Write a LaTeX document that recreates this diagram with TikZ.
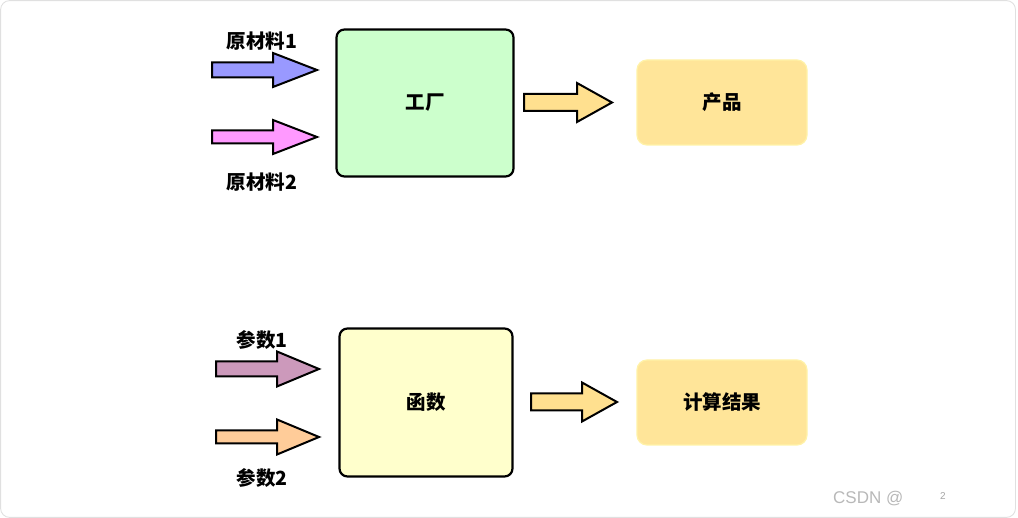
\documentclass[tikz,border=0pt]{standalone}
\usepackage{fontspec}
\newfontfamily\cjk{Noto Sans CJK SC}
\setsansfont{Liberation Sans}
\definecolor{factfill}{HTML}{CCFFCC}
\definecolor{funcfill}{HTML}{FFFFCC}
\definecolor{resfill}{HTML}{FFE599}
\definecolor{resdraw}{HTML}{FFF2A8}
\definecolor{inA}{HTML}{9999FF}
\definecolor{inB}{HTML}{FF99FF}
\definecolor{inC}{HTML}{CC99BB}
\definecolor{inD}{HTML}{FFCC99}
\definecolor{outA}{HTML}{FFE08F}
\newcommand\blockarr[7]{% color, tail x, center y, shaft half, head start x, head half, tip x
  \draw[barr, fill=#1] (#2,#3-#4) -- (#5,#3-#4) -- (#5,#3-#6) -- (#7,#3)
    -- (#5,#3+#6) -- (#5,#3+#4) -- (#2,#3+#4) -- cycle;}
\begin{document}
\begin{tikzpicture}[x=1pt,y=-1pt,
  lbl/.style={font=\cjk\bfseries\fontsize{19.5}{19.5}\selectfont, inner sep=0pt},
  bigbox/.style={draw=black, line width=2.2pt, rounded corners=8pt,
    font=\cjk\bfseries\fontsize{19.5}{19.5}\selectfont},
  resbox/.style={draw=resdraw, fill=resfill, line width=1.2pt, rounded corners=10pt,
    minimum width=170pt, minimum height=85pt,
    font=\cjk\bfseries\fontsize{19.5}{19.5}\selectfont},
  barr/.style={draw=black, line width=2pt, line join=miter}]
\useasboundingbox (0,0) rectangle (1018,518);
\draw[black!12, line width=0.9pt, rounded corners=9pt] (0.6,0.6) rectangle (1015.5,517.4);

% top row
\node[bigbox, fill=factfill, minimum width=177pt, minimum height=147pt] (factory) at (425,103) {工厂};
\node[resbox] (product) at (722,102.5) {产品};
\node[lbl] (raw1) at (262,41) {原材料1};
\node[lbl] (raw2) at (262,182) {原材料2};
\blockarr{inA}{212}{70}{7.5}{273}{17}{317}
\blockarr{inB}{212}{137}{6.5}{273}{17}{317}
\blockarr{outA}{524}{102.5}{8.5}{577}{19.5}{612}

% bottom row
\node[bigbox, fill=funcfill, minimum width=173pt, minimum height=148pt] (func) at (426,402.5) {函数};
\node[resbox] (result) at (722,402.5) {计算结果};
\node[lbl] (arg1) at (262,340) {参数1};
\node[lbl] (arg2) at (262,478) {参数2};
\blockarr{inC}{216}{369}{7.5}{277}{17.5}{319}
\blockarr{inD}{216}{437}{6.5}{277}{17.5}{319}
\blockarr{outA}{531}{402}{8.5}{582}{19.5}{617}

% footer
\node[font=\sffamily\fontsize{17}{17}\selectfont, text=black!28, anchor=west, inner sep=0pt] (csdn) at (833,499) {CSDN @};
\node[font=\sffamily\fontsize{10}{10}\selectfont, text=black!35, inner sep=0pt] (two) at (943,496) {2};
\end{tikzpicture}
\end{document}
